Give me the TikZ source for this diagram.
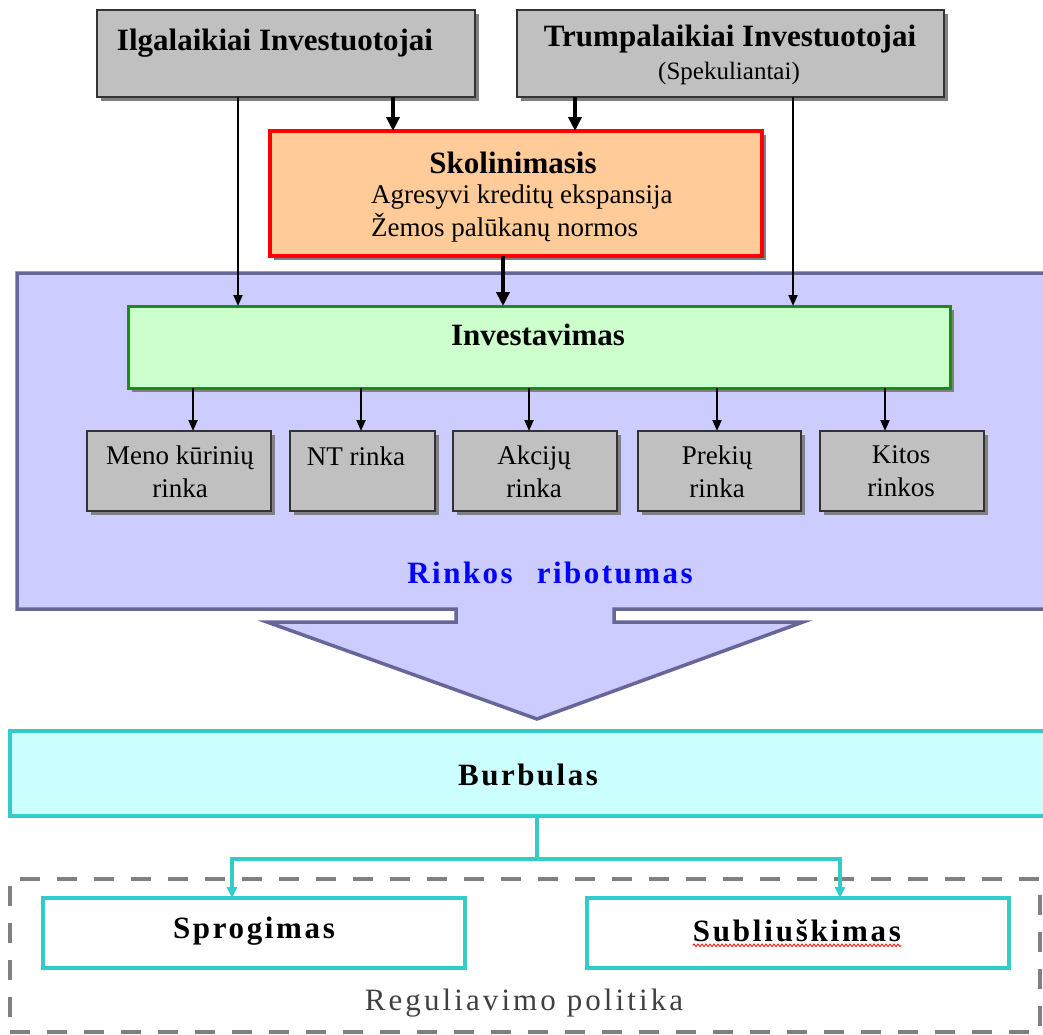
\documentclass[tikz,border=0pt]{standalone}
\usepackage{fontspec}
\setmainfont{Liberation Serif}
\usetikzlibrary{shadows,decorations.pathmorphing,arrows.meta}
\definecolor{gfill}{HTML}{C0C0C0}
\definecolor{gline}{HTML}{333333}
\definecolor{peach}{HTML}{FFCC99}
\definecolor{lav}{HTML}{CCCCFF}
\definecolor{lavline}{HTML}{666699}
\definecolor{grn}{HTML}{CCFFCC}
\definecolor{grnline}{HTML}{1A8C1A}
\definecolor{cyf}{HTML}{CCFFFF}
\definecolor{cyl}{HTML}{33CCCC}
\definecolor{shd}{HTML}{808080}
\definecolor{dgray}{HTML}{808080}
\definecolor{rtext}{HTML}{404040}
\begin{document}
\begin{tikzpicture}[x=1pt,y=-1pt,
  box/.style={inner sep=0pt, outer sep=0pt},
  shad/.style={drop shadow={shadow xshift=4pt, shadow yshift=-4pt, fill=shd, opacity=1}},
  graybox/.style={box, draw=gline, fill=gfill, line width=2pt, shad},
  skolbox/.style={box, draw=red, fill=peach, line width=4pt, shad},
  invbox/.style={box, draw=grnline, fill=grn, line width=3pt, shad},
  cybox/.style={box, draw=cyl, fill=cyf, line width=4pt},
  whbox/.style={box, draw=cyl, fill=white, line width=4pt},
  regbox/.style={box, draw=dgray, line width=4pt, dash pattern=on 20pt off 17pt},
  btxt/.style={inner sep=0pt, font=\fontsize{31}{36}\selectfont\bfseries},
  rtxt/.style={inner sep=0pt, font=\fontsize{27}{33}\selectfont, align=center},
  sptxt/.style={inner sep=0pt, font=\fontsize{31}{36}\selectfont\bfseries\addfontfeature{LetterSpace=8}},
  bigarrow/.style={line width=4pt, -{Triangle[length=14pt,width=13pt]}},
  smallarrow/.style={line width=2pt, -{Triangle[length=11pt,width=9pt]}},
  cyarrow/.style={draw=cyl, line width=3.5pt, -{Triangle[length=11pt,width=10pt]}},
  cyline/.style={draw=cyl, line width=3.5pt}
]
\useasboundingbox (0,0) rectangle (1043,1034);
\clip (0,0) rectangle (1043,1034);

% lavender arrow shape
\draw[fill=lav, draw=lavline, line width=3.5pt, line join=miter]
  (17,273) -- (1070,273) -- (1070,609) -- (614,609) -- (614,622) -- (803,622)
  -- (537,719) -- (267,622) -- (456,622) -- (456,609) -- (17,609) -- cycle;

% top boxes
\node[graybox, minimum width=378pt, minimum height=87pt] (ilg) at (286,53.5) {};
\node[graybox, minimum width=427pt, minimum height=87pt] (trum) at (730.5,53.5) {};
\node[btxt] (ilgt) at (275,43) {Ilgalaikiai Investuotojai};
\node[btxt] (trumt) at (730,39) {Trumpalaikiai Investuotojai};
\node[inner sep=0pt, font=\fontsize{25}{30}\selectfont] (spek) at (729,73) {(Spekuliantai)};

% skolinimasis
\node[skolbox, minimum width=492pt, minimum height=125pt] (skol) at (516,193.5) {};
\node[btxt] (skolt) at (513,163) {Skolinimasis};
\node[rtxt, anchor=west] (agr) at (371,197) {Agresyvi kreditų ekspansija};
\node[rtxt, anchor=west] (zem) at (371,228) {Žemos palūkanų normos};

% investavimas
\node[invbox, minimum width=822pt, minimum height=82pt] (inv) at (539,347) {};
\node[btxt] (invt) at (538,335) {Investavimas};

% markets
\node[graybox, minimum width=184pt, minimum height=80pt] (m1) at (179,471) {};
\node[graybox, minimum width=145pt, minimum height=80pt] (m2) at (362.5,471) {};
\node[graybox, minimum width=164pt, minimum height=80pt] (m3) at (535,471) {};
\node[graybox, minimum width=163pt, minimum height=80pt] (m4) at (719.5,471) {};
\node[graybox, minimum width=164pt, minimum height=80pt] (m5) at (902,471) {};
\node[rtxt] (m1t) at (180,471.5) {Meno kūrinių\\rinka};
\node[rtxt] (m2t) at (356,456) {NT rinka};
\node[rtxt] (m3t) at (534,471.5) {Akcijų\\rinka};
\node[rtxt] (m4t) at (717,471.5) {Prekių\\rinka};
\node[rtxt] (m5t) at (901,471.5) {Kitos\\rinkos};

\node[sptxt, text=blue] (rink) at (550,573) {Rinkos\hspace{24pt}ribotumas};

% burbulas
\node[cybox, minimum width=1040pt, minimum height=85pt] (burb) at (530,773.5) {};
\node[sptxt] (burbt) at (528,775) {Burbulas};

% regulation dashed area
\node[regbox, minimum width=1030pt, minimum height=153pt] (reg) at (525,955.5) {};
\node[whbox, minimum width=422pt, minimum height=70pt] (sprog) at (254,933) {};
\node[whbox, minimum width=422pt, minimum height=70pt] (subl) at (798,933) {};
\node[sptxt, font=\fontsize{31}{36}\selectfont\bfseries\addfontfeature{LetterSpace=8.5}] (sprogt) at (254,931) {Sprogimas};
\node[sptxt, font=\fontsize{31}{36}\selectfont\bfseries\addfontfeature{LetterSpace=9}] (sublt) at (797,931) {Subliuškimas};
\draw[red, line width=0.8pt, decorate, decoration={snake, amplitude=1.3pt, segment length=4pt}]
  ([yshift=-3pt]sublt.south west) -- ([yshift=-3pt]sublt.south east);
\node[inner sep=0pt, text=rtext, font=\fontsize{31}{36}\selectfont\addfontfeature{LetterSpace=10}] (regt) at (524,1003) {Reguliavimo politika};

% arrows
\draw[bigarrow] (ilg.south -| 393,0) -- (skol.north -| 393,0);
\draw[bigarrow] (trum.south -| 575,0) -- (skol.north -| 575,0);
\draw[bigarrow] (skol.south -| 503,0) -- (inv.north -| 503,0);
\draw[smallarrow] (ilg.south -| 238,0) -- (inv.north -| 238,0);
\draw[smallarrow] (trum.south -| 793,0) -- (inv.north -| 793,0);
\draw[smallarrow] (inv.south -| 193,0) -- (m1.north -| 193,0);
\draw[smallarrow] (inv.south -| 361,0) -- (m2.north -| 361,0);
\draw[smallarrow] (inv.south -| 529,0) -- (m3.north -| 529,0);
\draw[smallarrow] (inv.south -| 717,0) -- (m4.north -| 717,0);
\draw[smallarrow] (inv.south -| 885,0) -- (m5.north -| 885,0);

\coordinate (split) at (537,859);
\draw[cyline] (burb.south -| split) -- (split);
\draw[cyarrow] (split) -| (sprog.north -| 232,0);
\draw[cyarrow] (split) -| (subl.north -| 840,0);
\end{tikzpicture}
\end{document}
